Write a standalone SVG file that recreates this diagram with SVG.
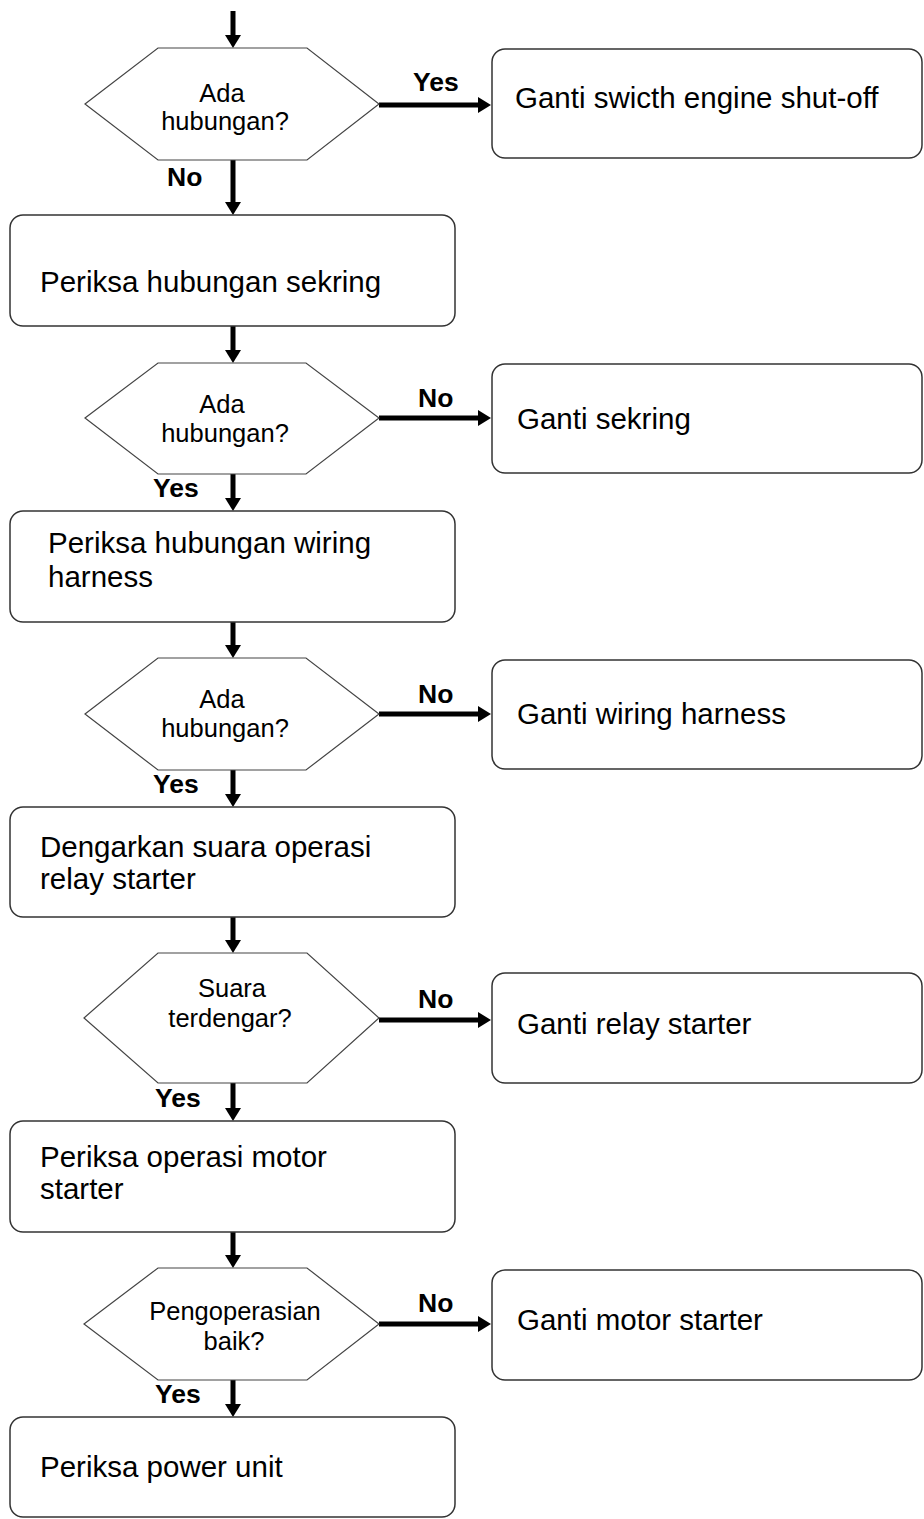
<svg xmlns="http://www.w3.org/2000/svg" width="924" height="1519" viewBox="0 0 924 1519">
<style>
.box{fill:#fff;stroke:#333;stroke-width:1.5}
.hex{fill:#fff;stroke:#444;stroke-width:1.2}
.t{font-family:"Liberation Sans",Arial,sans-serif;font-size:29.5px;fill:#000}
.h{font-family:"Liberation Sans",Arial,sans-serif;font-size:25.5px;fill:#000;text-anchor:middle}
.l{font-family:"Liberation Sans",Arial,sans-serif;font-size:26.5px;font-weight:bold;fill:#000}
.c{stroke:#000;stroke-width:5;fill:none;marker-end:url(#ah)}
</style>
<defs>
<marker id="ah" markerUnits="userSpaceOnUse" markerWidth="13" markerHeight="16" refX="0" refY="8" orient="auto" viewBox="0 0 13 16">
<path d="M0,0 L13,8 L0,16 z" fill="#000"/>
</marker>
</defs>
<rect width="924" height="1519" fill="#fff"/>
<g id="connectors">
<line class="c" x1="233" y1="11" x2="233" y2="35"/>
<line class="c" x1="233" y1="160" x2="233" y2="202"/>
<line class="c" x1="233" y1="326" x2="233" y2="350"/>
<line class="c" x1="233" y1="474" x2="233" y2="498"/>
<line class="c" x1="233" y1="622" x2="233" y2="645"/>
<line class="c" x1="233" y1="770" x2="233" y2="794"/>
<line class="c" x1="233" y1="917" x2="233" y2="940"/>
<line class="c" x1="233" y1="1083" x2="233" y2="1108"/>
<line class="c" x1="233" y1="1232" x2="233" y2="1255"/>
<line class="c" x1="233" y1="1380" x2="233" y2="1404"/>
<line class="c" x1="379" y1="105" x2="478" y2="105"/>
<line class="c" x1="379" y1="418" x2="478" y2="418"/>
<line class="c" x1="379" y1="714" x2="478" y2="714"/>
<line class="c" x1="379" y1="1020" x2="478" y2="1020"/>
<line class="c" x1="379" y1="1324" x2="478" y2="1324"/>
<text class="l" x="413" y="91">Yes</text>
<text class="l" x="167" y="186">No</text>
<text class="l" x="418" y="407">No</text>
<text class="l" x="153" y="497">Yes</text>
<text class="l" x="418" y="703">No</text>
<text class="l" x="153" y="793">Yes</text>
<text class="l" x="418" y="1008">No</text>
<text class="l" x="155" y="1107">Yes</text>
<text class="l" x="418" y="1312">No</text>
<text class="l" x="155" y="1403">Yes</text>
</g>
<g id="d1">
<polygon class="hex" points="85,104 158,48 307,48 379,104 307,160 158,160"/>
<text class="h" x="222" y="102">Ada</text>
<text class="h" x="225" y="130">hubungan?</text>
</g>
<g id="r1">
<rect class="box" x="492" y="49" width="430" height="109" rx="13"/>
<text class="t" x="515" y="108">Ganti swicth engine shut-off</text>
</g>
<g id="b1">
<rect class="box" x="10" y="215" width="445" height="111" rx="13"/>
<text class="t" x="40" y="292">Periksa hubungan sekring</text>
</g>
<g id="d2">
<polygon class="hex" points="85,418 158,363 306,363 379,418 306,474 158,474"/>
<text class="h" x="222" y="413">Ada</text>
<text class="h" x="225" y="442">hubungan?</text>
</g>
<g id="r2">
<rect class="box" x="492" y="364" width="430" height="109" rx="13"/>
<text class="t" x="517" y="429">Ganti sekring</text>
</g>
<g id="b2">
<rect class="box" x="10" y="511" width="445" height="111" rx="13"/>
<text class="t" x="48" y="553">Periksa hubungan wiring</text>
<text class="t" x="48" y="587">harness</text>
</g>
<g id="d3">
<polygon class="hex" points="85,714 158,658 306,658 379,714 306,770 158,770"/>
<text class="h" x="222" y="708">Ada</text>
<text class="h" x="225" y="737">hubungan?</text>
</g>
<g id="r3">
<rect class="box" x="492" y="660" width="430" height="109" rx="13"/>
<text class="t" x="517" y="724">Ganti wiring harness</text>
</g>
<g id="b3">
<rect class="box" x="10" y="807" width="445" height="110" rx="13"/>
<text class="t" x="40" y="857">Dengarkan suara operasi</text>
<text class="t" x="40" y="889">relay starter</text>
</g>
<g id="d4">
<polygon class="hex" points="84,1018 158,953 307,953 379,1018 307,1083 158,1083"/>
<text class="h" x="232" y="997">Suara</text>
<text class="h" x="230" y="1027">terdengar?</text>
</g>
<g id="r4">
<rect class="box" x="492" y="973" width="430" height="110" rx="13"/>
<text class="t" x="517" y="1034">Ganti relay starter</text>
</g>
<g id="b4">
<rect class="box" x="10" y="1121" width="445" height="111" rx="13"/>
<text class="t" x="40" y="1167">Periksa operasi motor</text>
<text class="t" x="40" y="1199">starter</text>
</g>
<g id="d5">
<polygon class="hex" points="84,1324 158,1268 307,1268 379,1324 307,1380 158,1380"/>
<text class="h" x="235" y="1320">Pengoperasian</text>
<text class="h" x="234" y="1350">baik?</text>
</g>
<g id="r5">
<rect class="box" x="492" y="1270" width="430" height="110" rx="13"/>
<text class="t" x="517" y="1330">Ganti motor starter</text>
</g>
<g id="b5">
<rect class="box" x="10" y="1417" width="445" height="100" rx="13"/>
<text class="t" x="40" y="1477">Periksa power unit</text>
</g>
</svg>
